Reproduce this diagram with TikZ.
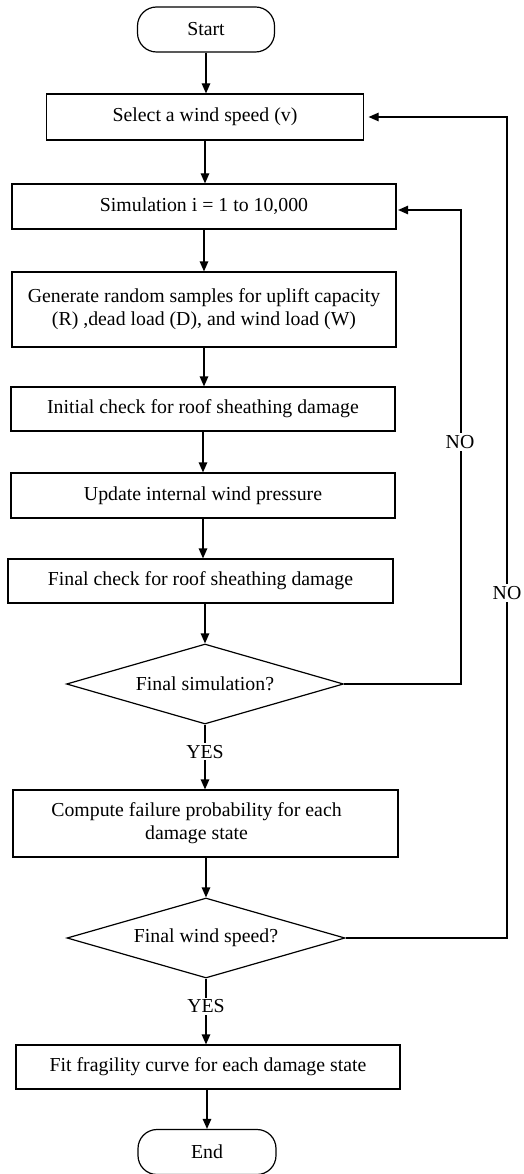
\documentclass[tikz,border=0pt]{standalone}
\usepackage{fontspec}
\setmainfont{Liberation Serif}
\usetikzlibrary{shapes.geometric, arrows.meta}
\begin{document}
\begin{tikzpicture}[x=1pt,y=-1pt,
  every node/.style={font=\fontsize{19.8}{23}\selectfont},
  box/.style={draw, line width=1.2pt, inner sep=0pt, align=center},
  term/.style={box, rounded corners=19pt},
  dec/.style={draw, line width=1.2pt, diamond, aspect=3.46, inner sep=0pt},
  arr/.style={line width=1.2pt, -{Triangle[length=10pt,width=8.5pt]}},
  lbl/.style={fill=white, inner sep=2pt}
]
\useasboundingbox (0,0) rectangle (523,1174);

\node[term, minimum width=137pt, minimum height=45pt] (start) at (206,29.5) {Start};
\node[box, minimum width=317pt, minimum height=46pt] (sel) at (205,117) {Select a wind speed (v)};
\node[box, minimum width=384pt, minimum height=45pt] (sim) at (204,206.5) {Simulation i = 1 to 10,000};
\node[box, minimum width=384pt, minimum height=75pt] (gen) at (204,309.5) {Generate random samples for uplift capacity\\(R) ,dead load (D), and wind load (W)};
\node[box, minimum width=384pt, minimum height=44pt] (init) at (203,409) {Initial check for roof sheathing damage};
\node[box, minimum width=384pt, minimum height=45pt] (upd) at (203,495.5) {Update internal wind pressure};
\node[box, minimum width=385pt, minimum height=44pt] (fin) at (200.5,581) {Final check for roof sheathing damage};
\node[dec, minimum width=277pt, minimum height=80pt] (d1) at (205,684) {Final simulation?};
\node[box, minimum width=385pt, minimum height=67pt] (comp) at (205.5,823.5) {Compute failure probability for each\hspace*{18pt}\\damage state\hspace*{18pt}};
\node[dec, minimum width=278pt, minimum height=80pt] (d2) at (206,938) {Final wind speed?};
\node[box, minimum width=384pt, minimum height=44pt] (fit) at (208,1067) {Fit fragility curve for each damage state};
\node[term, minimum width=138pt, minimum height=45pt] (end) at (207,1152) {End};

\draw[arr] (start.south) -- (start.south |- sel.north);
\draw[arr] (sel.south) -- (sel.south |- sim.north);
\draw[arr] (sim.south) -- (sim.south |- gen.north);
\draw[arr] (gen.south) -- (gen.south |- init.north);
\draw[arr] (init.south) -- (init.south |- upd.north);
\draw[arr] (upd.south) -- (upd.south |- fin.north);
\draw[arr] (fin.south -| d1.north) -- (d1.north);
\draw[arr] (d1.south) -- node[lbl, pos=0.42] {YES} (d1.south |- comp.north);
\draw[arr] (comp.south -| d2.north) -- (d2.north);
\draw[arr] (d2.south) -- node[lbl, pos=0.42] {YES} (d2.south |- fit.north);
\draw[arr] (fit.south -| end.north) -- (end.north);

\coordinate (c1) at (461,210);
\coordinate (c2) at (507,117);
\draw[arr, shorten >=1.5pt] (d1.east) -| (c1) -- (sim.east |- c1);
\draw[arr, shorten >=4.5pt] (d2.east) -| (c2) -- (sel.east);
\node[lbl] (no1) at (460,442) {NO};
\node[lbl] (no2) at (507,593) {NO};
\end{tikzpicture}
\end{document}
